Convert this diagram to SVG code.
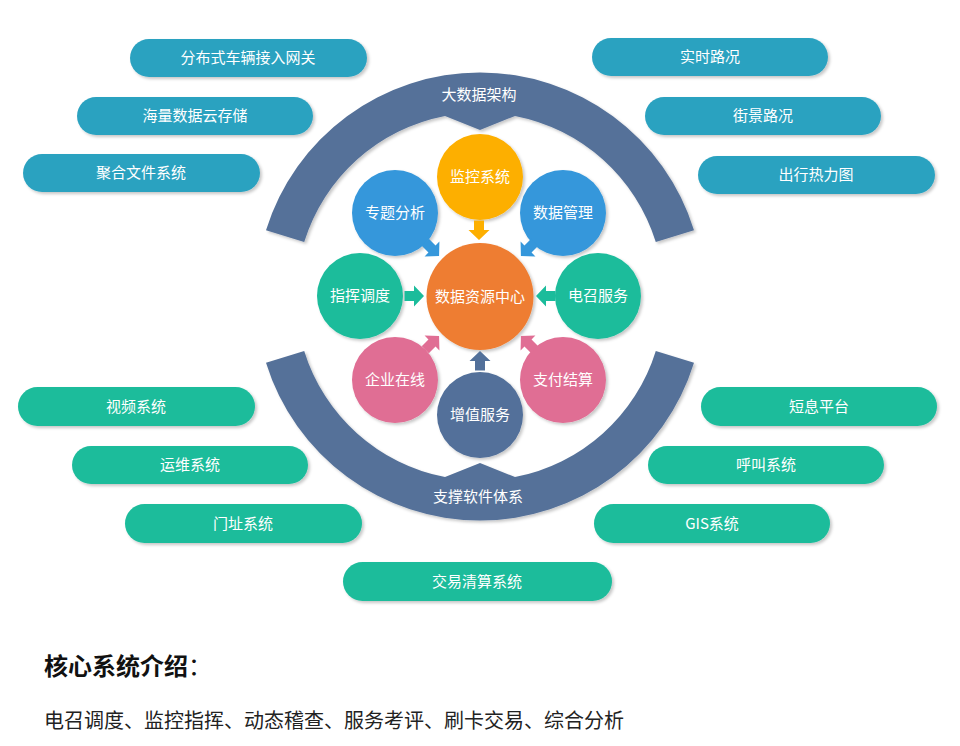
<svg xmlns="http://www.w3.org/2000/svg" width="960" height="746" viewBox="0 0 960 746">
<defs>
<filter id="sh" x="-10%" y="-20%" width="125%" height="160%">
<feDropShadow dx="2" dy="2" stdDeviation="1.5" flood-color="#000" flood-opacity="0.22"/>
</filter>
<path id="arw" d="M-9.5,-5 L0,-5 L0,-10.5 L10,0 L0,10.5 L0,5 L-9.5,5 Z"/>
</defs>
<style>
text{font-family:"Microsoft YaHei","Noto Sans CJK SC","Noto Sans",sans-serif;}
.t{fill:#fff;font-size:15px;text-anchor:middle;dominant-baseline:central;transform:translateY(-1.5px);}
.pb{fill:#2ca2c0;filter:url(#sh);}
.pg{fill:#1bbc9b;filter:url(#sh);}
.band{fill:#557199;filter:url(#sh);}
.c{filter:url(#sh);}
</style>
<rect width="960" height="746" fill="#fff"/>

<g id="bigdata-arc">
<path class="band" d="M266.0,230.3 A224,224 0 0 1 694.0,230.3 L655.8,242.1 A184,184 0 0 0 515,115.9 L480,130 L445,115.9 A184,184 0 0 0 304.2,242.1 Z"/>
<text class="t" x="479" y="95">大数据架构</text>
</g>
<g id="support-arc">
<path class="band" d="M266.0,362.7 A224,224 0 0 0 694.0,362.7 L655.8,350.9 A184,184 0 0 1 515,477.1 L480,463 L445,477.1 A184,184 0 0 1 304.2,350.9 Z"/>
<text class="t" x="478" y="497">支撑软件体系</text>
</g>

<g id="pill-gateway"><rect class="pb" x="130" y="39" width="237" height="38" rx="19"/><text class="t" x="248" y="58">分布式车辆接入网关</text></g>
<g id="pill-storage"><rect class="pb" x="77" y="97" width="236" height="38" rx="19"/><text class="t" x="195" y="116">海量数据云存储</text></g>
<g id="pill-fs"><rect class="pb" x="23" y="154" width="237" height="38" rx="19"/><text class="t" x="141" y="173">聚合文件系统</text></g>
<g id="pill-realtime"><rect class="pb" x="592" y="38" width="236" height="38" rx="19"/><text class="t" x="710" y="57">实时路况</text></g>
<g id="pill-street"><rect class="pb" x="645" y="97" width="236" height="38" rx="19"/><text class="t" x="763" y="116">街景路况</text></g>
<g id="pill-heatmap"><rect class="pb" x="698" y="156" width="237" height="38" rx="19"/><text class="t" x="816" y="175">出行热力图</text></g>

<g id="pill-video"><rect class="pg" x="18" y="387" width="237" height="39" rx="19.5"/><text class="t" x="136" y="406.5">视频系统</text></g>
<g id="pill-ops"><rect class="pg" x="72" y="446" width="236" height="38" rx="19"/><text class="t" x="190" y="465">运维系统</text></g>
<g id="pill-address"><rect class="pg" x="125" y="504" width="237" height="39" rx="19.5"/><text class="t" x="243" y="523.5">门址系统</text></g>
<g id="pill-clearing"><rect class="pg" x="343" y="562" width="269" height="39" rx="19.5"/><text class="t" x="477" y="581.5">交易清算系统</text></g>
<g id="pill-sms"><rect class="pg" x="701" y="387" width="236" height="39" rx="19.5"/><text class="t" x="819" y="406.5">短息平台</text></g>
<g id="pill-call"><rect class="pg" x="648" y="446" width="236" height="38" rx="19"/><text class="t" x="766" y="465">呼叫系统</text></g>
<g id="pill-gis"><rect class="pg" x="594" y="504" width="236" height="39" rx="19.5"/><text class="t" x="712" y="523.5">GIS系统</text></g>

<g id="c-monitor"><circle class="c" cx="480" cy="177" r="43" fill="#fdaf00"/><text class="t" x="480" y="177">监控系统</text></g>
<g id="c-topic"><circle class="c" cx="395" cy="213" r="43" fill="#3597db"/><text class="t" x="395" y="213">专题分析</text></g>
<g id="c-datamgmt"><circle class="c" cx="563" cy="213" r="43" fill="#3597db"/><text class="t" x="563" y="213">数据管理</text></g>
<g id="c-dispatch"><circle class="c" cx="360" cy="296" r="43" fill="#1bbc9b"/><text class="t" x="360" y="296">指挥调度</text></g>
<g id="c-hail"><circle class="c" cx="598" cy="296" r="43" fill="#1bbc9b"/><text class="t" x="598" y="296">电召服务</text></g>
<g id="c-enterprise"><circle class="c" cx="395" cy="380" r="43" fill="#e06e94"/><text class="t" x="395" y="380">企业在线</text></g>
<g id="c-payment"><circle class="c" cx="563" cy="380" r="43" fill="#e06e94"/><text class="t" x="563" y="380">支付结算</text></g>
<g id="c-value"><circle class="c" cx="480" cy="415" r="43" fill="#52709a"/><text class="t" x="480" y="415">增值服务</text></g>
<g id="c-center"><circle class="c" cx="480" cy="296.5" r="53.5" fill="#ee7d31"/><text class="t" x="480" y="296.5">数据资源中心</text></g>

<g id="connectors">
<use href="#arw" fill="#fdaf00" transform="translate(479,230) rotate(90)"/>
<use href="#arw" fill="#1bbc9b" transform="translate(414,296) rotate(0)"/>
<use href="#arw" fill="#1bbc9b" transform="translate(546,296) rotate(180)"/>
<use href="#arw" fill="#52709a" transform="translate(480,361) rotate(-90)"/>
<use href="#arw" fill="#3597db" transform="translate(432,249) rotate(45)"/>
<use href="#arw" fill="#3597db" transform="translate(528,249) rotate(135)"/>
<use href="#arw" fill="#e06e94" transform="translate(432,343) rotate(-45)"/>
<use href="#arw" fill="#e06e94" transform="translate(528,343) rotate(-135)"/>
</g>

<text x="44" y="675" font-size="24" font-weight="bold" fill="#111">核心系统介绍<tspan font-weight="normal">：</tspan></text>
<text x="44" y="728" font-size="20" fill="#222">电召调度、监控指挥、动态稽查、服务考评、刷卡交易、综合分析</text>
</svg>
